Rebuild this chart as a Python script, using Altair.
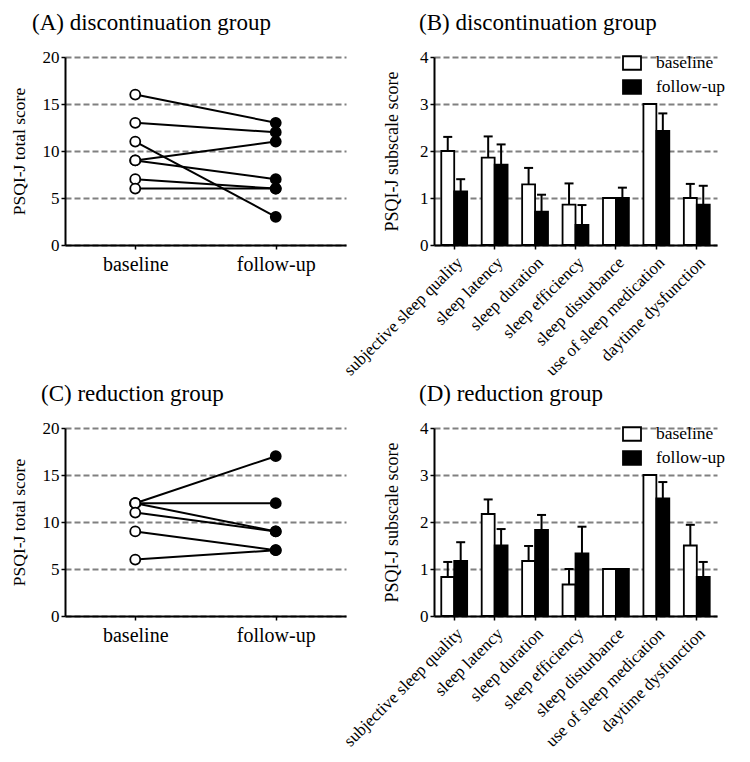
import altair as alt
import pandas as pd

FONT = "Liberation Serif"

# ---------------- data ----------------
times = ["baseline", "follow-up"]

# (A) discontinuation group: PSQI-J total score per subject
a_baseline = [16, 13, 11, 9, 9, 7, 6]
a_followup = [13, 12, 3, 11, 7, 6, 6]

# (C) reduction group
c_baseline = [12, 12, 12, 11, 9, 6]
c_followup = [17, 12, 9, 9, 7, 7]

subscales = [
    "subjective sleep quality",
    "sleep latency",
    "sleep duration",
    "sleep efficiency",
    "sleep disturbance",
    "use of sleep medication",
    "daytime dysfunction",
]

# (B) discontinuation group: subscale means and error
b_base_mean = [2.0, 1.86, 1.29, 0.86, 1.0, 3.0, 1.0]
b_base_err = [0.30, 0.45, 0.35, 0.45, 0.0, 0.0, 0.30]
b_fu_mean = [1.14, 1.71, 0.71, 0.43, 1.0, 2.43, 0.86]
b_fu_err = [0.26, 0.43, 0.36, 0.42, 0.22, 0.37, 0.40]

# (D) reduction group
d_base_mean = [0.83, 2.17, 1.17, 0.67, 1.0, 3.0, 1.5]
d_base_err = [0.32, 0.31, 0.32, 0.33, 0.0, 0.0, 0.44]
d_fu_mean = [1.17, 1.5, 1.83, 1.33, 1.0, 2.5, 0.83]
d_fu_err = [0.40, 0.35, 0.32, 0.57, 0.0, 0.35, 0.32]


def paired_df(base, fu):
    rows = []
    for i, (b, f) in enumerate(zip(base, fu)):
        rows.append({"subject": i, "time": times[0], "score": b})
        rows.append({"subject": i, "time": times[1], "score": f})
    return pd.DataFrame(rows)


def bar_df(bm, be, fm, fe):
    rows = []
    for i, s in enumerate(subscales):
        rows.append({"subscale": s, "time": times[0], "mean": bm[i], "err": be[i], "upper": bm[i] + be[i]})
        rows.append({"subscale": s, "time": times[1], "mean": fm[i], "err": fe[i], "upper": fm[i] + fe[i]})
    return pd.DataFrame(rows)


fill_scale = alt.Scale(domain=times, range=["white", "black"])

W_LINE, W_BAR, H = 281, 283, 188


def panel_title(text, dx):
    return alt.TitleParams(
        text=text, anchor="start", frame="group", dx=dx, offset=13,
        font=FONT, fontSize=23, fontWeight="normal", color="black",
    )


def line_panel(df, title, dx):
    x = alt.X(
        "time:N", sort=times,
        scale=alt.Scale(type="point", padding=0.5),
        axis=alt.Axis(title=None, labelAngle=0, labelFontSize=20, labelPadding=5,
                      labelFont=FONT, grid=False),
    )
    y = alt.Y(
        "score:Q",
        scale=alt.Scale(domain=[0, 20], nice=False),
        axis=alt.Axis(values=[0, 5, 10, 15, 20], title="PSQI-J total score",
                      titleFont=FONT, labelFont=FONT,
                      titleFontSize=17.5, labelFontSize=17, labelPadding=2,
                      titlePadding=14),
    )
    base = alt.Chart(df)
    lines = base.mark_line(color="black", strokeWidth=2).encode(
        x=x, y=y, detail="subject:N"
    )
    pts = base.mark_point(
        shape="circle", filled=True, size=100, stroke="black", strokeWidth=1.8, opacity=1
    ).encode(
        x=x, y=y, fill=alt.Fill("time:N", scale=fill_scale, legend=None)
    )
    return alt.layer(lines, pts).properties(
        width=W_LINE, height=H, title=panel_title(title, dx)
    )


def bar_panel(df, title, dx):
    x = alt.X(
        "subscale:N", sort=subscales,
        scale=alt.Scale(paddingInner=0.36, paddingOuter=0.18),
        axis=alt.Axis(title=None, labelAngle=-45, labelFontSize=17, labelPadding=5,
                      labelFont=FONT, grid=False),
    )
    xo = alt.XOffset("time:N", sort=times,
                     scale=alt.Scale(domain=times, paddingInner=0, paddingOuter=0))
    y = alt.Y(
        "mean:Q",
        scale=alt.Scale(domain=[0, 4], nice=False),
        axis=alt.Axis(values=[0, 1, 2, 3, 4], title="PSQI-J subscale score",
                      titleFont=FONT, labelFont=FONT,
                      titleFontSize=18, labelFontSize=17, labelPadding=2,
                      titlePadding=18),
    )
    base = alt.Chart(df)
    bars = base.mark_bar(stroke="black", strokeWidth=1.8).encode(
        x=x, xOffset=xo, y=y,
        fill=alt.Fill(
            "time:N", scale=fill_scale,
            legend=alt.Legend(
                title=None, orient="none", legendX=188, legendY=-4,
                symbolType="M-1,-0.75H1V0.75H-1Z", symbolSize=324,
                symbolStrokeColor="black", symbolStrokeWidth=1.8, symbolOpacity=1,
                labelFont=FONT, labelFontSize=17.5, labelColor="black",
                labelOffset=14, rowPadding=2,
            ),
        ),
    )
    eb = base.transform_filter("datum.err > 0")
    rules = eb.mark_rule(color="black", strokeWidth=2).encode(
        x=x, xOffset=xo, y="mean:Q", y2="upper:Q"
    )
    caps = eb.mark_tick(color="black", thickness=2, size=9, opacity=1).encode(
        x=x, xOffset=xo, y="upper:Q"
    )
    return alt.layer(bars, rules, caps).properties(
        width=W_BAR, height=H, title=panel_title(title, dx)
    )


pA = line_panel(paired_df(a_baseline, a_followup), "(A) discontinuation group", -33)
pB = bar_panel(bar_df(b_base_mean, b_base_err, b_fu_mean, b_fu_err), "(B) discontinuation group", -15)
pC = line_panel(paired_df(c_baseline, c_followup), "(C) reduction group", -24)
pD = bar_panel(bar_df(d_base_mean, d_base_err, d_fu_mean, d_fu_err), "(D) reduction group", -15)

chart = (
    alt.concat(pA, pB, pC, pD, columns=2, bounds="flush",
               spacing=alt.RowColnumber(row=183, column=88))
    .resolve_scale(fill="independent")
    .resolve_legend(fill="independent")
    .properties(padding={"left": 10, "top": 12, "right": 0, "bottom": 0})
    .configure_view(stroke=None)
    .configure_axis(
        labelFont=FONT, titleFont=FONT, titleFontWeight="normal",
        labelColor="black", titleColor="black",
        domainColor="black", domainWidth=2,
        tickColor="black", tickWidth=1.5, tickSize=4,
    )
    .configure_axisY(grid=True, gridColor="#808080", gridDash=[6, 3], gridWidth=1.8)
    .configure_axisX(grid=False)
    .configure_legend(labelFont=FONT)
)

chart.save("out.html", embed_options={"renderer": "svg", "actions": False})
